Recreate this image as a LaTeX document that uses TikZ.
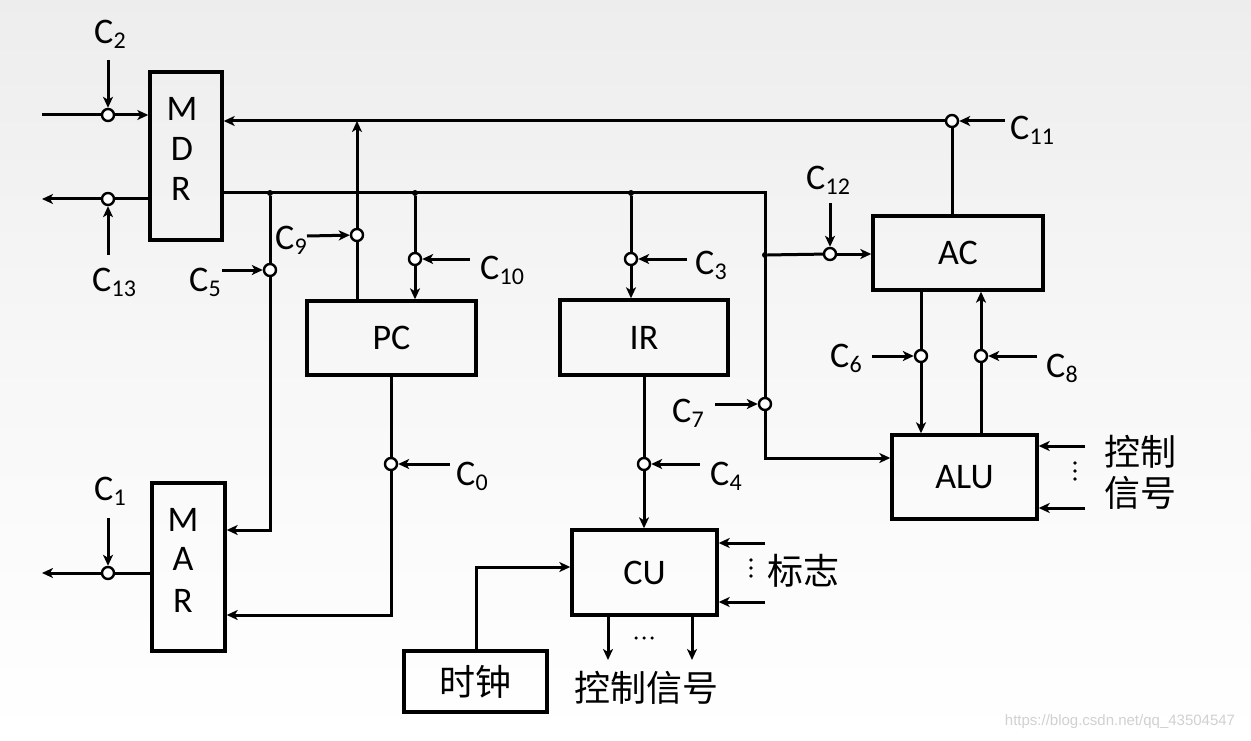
\documentclass[tikz,border=0pt]{standalone}
\usepackage{fontspec}
\setmainfont{Carlito}
\newfontfamily\cjk{Noto Sans CJK SC}
\newfontfamily\wmfont{Liberation Sans}
\usetikzlibrary{arrows.meta}
\newcommand\cl[1]{C\kern0.3pt\raisebox{-5pt}{\fontsize{24}{24}\selectfont #1}}
\begin{document}
\begin{tikzpicture}[x=1pt,y=-1pt,
  font=\fontsize{36}{40}\selectfont,
  box/.style={draw, line width=3.4pt, inner sep=0pt},
  sw/.style={circle, draw, fill=white, line width=2.4pt, minimum size=12pt, inner sep=0pt},
  jd/.style={circle, fill=black, minimum size=6pt, inner sep=0pt},
  ln/.style={line width=3pt},
  ar/.style={line width=3pt, -{Stealth[length=11pt,width=10pt,inset=3pt]}},
  lab/.style={inner sep=0pt},
  cn/.style={inner sep=0pt, font=\fontsize{36}{40}\selectfont\cjk},
  vd/.style={circle, fill=black, minimum size=3.8pt, inner sep=0pt}]
\shade[top color=black!7, bottom color=white, middle color=black!3] (0,0) rectangle (1251,741);
\useasboundingbox (0,0) rectangle (1251,741);

% boxes
\node[box, minimum width=72pt, minimum height=168pt] (mdr) at (186,156) {};
\node[lab] at (182,109) {M};
\node[lab] at (182,149) {D};
\node[lab] at (181,189) {R};
\node[box, minimum width=73pt, minimum height=168pt] (mar) at (188.5,567) {};
\node[lab] at (183,520) {M};
\node[lab] at (183,559) {A};
\node[lab] at (183,601) {R};
\node[box, minimum width=169pt, minimum height=74pt] (pc) at (391.5,338) {PC};
\node[box, minimum width=168pt, minimum height=75pt] (ir) at (644,337.5) {IR};
\node[box, minimum width=145pt, minimum height=85pt] (cu) at (644.5,572.5) {CU};
\node[box, minimum width=143pt, minimum height=61pt, font=\fontsize{36}{40}\selectfont\cjk] (clk) at (475.5,681.5) {时钟};
\node[box, minimum width=170pt, minimum height=74pt] (ac) at (958,253) {AC};
\node[box, minimum width=145pt, minimum height=84pt] (alu) at (964.5,477) {ALU};

% coordinates
\coordinate (in2) at (42,115);
\coordinate (out13) at (42,199);
\coordinate (out1) at (42,573);
\coordinate (bc) at (765,193);
\coordinate (ab) at (765,458);
\coordinate (m5) at (270,530);
\coordinate (m0) at (391,615);
\coordinate (ck) at (476,567);
\coordinate (t9) at (357,121);

% switches
\node[sw] (s2) at (108,115) {};
\node[sw] (s13) at (108,199) {};
\node[sw] (s1) at (108,573) {};
\node[sw] (s11) at (952,121) {};
\node[sw] (s5) at (270,270) {};
\node[sw] (s9) at (357,235) {};
\node[sw] (s10) at (415,259) {};
\node[sw] (s3) at (631,259) {};
\node[sw] (s12) at (830,254) {};
\node[sw] (s7) at (765,404) {};
\node[sw] (s6) at (921,356) {};
\node[sw] (s8) at (981,356) {};
\node[sw] (s0) at (391,464) {};
\node[sw] (s4) at (644,464) {};

% junctions
\node[jd] (j1) at (270,193) {};
\node[jd] (j2) at (415,193) {};
\node[jd] (j3) at (631,193) {};
\node[jd] (j4) at (765,255) {};

% MDR I/O
\draw[ln] (in2) -- (s2);
\draw[ar] (s2) -- (mdr.west |- s2);
\draw[ln] (mdr.west |- s13) -- (s13);
\draw[ar] (s13) -- (out13);
% MAR output
\draw[ln] (mar.west |- s1) -- (s1);
\draw[ar] (s1) -- (out1);

% top bus
\draw[ar] (s11) -- (mdr.east |- s11);
\draw[ln] (ac.north -| s11) -- (s11);

% second bus
\draw[ln] (mdr.east |- bc) -- (bc) -- (s7);
\draw[ar] (s7) -- (ab) -- (alu.west |- ab);
\draw[ln] (j4) -- (s12);
\draw[ar] (s12) -- (ac.west |- s12);

% MAR from bus
\draw[ln] (j1) -- (s5);
\draw[ar] (s5) -- (m5) -- (mar.east |- m5);
% PC
\draw[ln] (pc.north -| s9) -- (s9);
\draw[ar] (s9) -- (t9);
\draw[ln] (j2) -- (s10);
\draw[ar] (s10) -- (pc.north -| s10);
\draw[ln] (pc.south -| s0) -- (s0);
\draw[ar] (s0) -- (m0) -- (mar.east |- m0);
% IR
\draw[ln] (j3) -- (s3);
\draw[ar] (s3) -- (ir.north -| s3);
\draw[ln] (ir.south -| s4) -- (s4);
\draw[ar] (s4) -- (cu.north -| s4);
% clock
\draw[ar] (clk.north -| ck) -- (ck) -- (cu.west |- ck);
% AC - ALU
\draw[ln] (ac.south -| s6) -- (s6);
\draw[ar] (s6) -- (alu.north -| s6);
\draw[ln] (alu.north -| s8) -- (s8);
\draw[ar] (s8) -- (ac.south -| s8);

% control inputs
\coordinate (c2) at (108,60);
\coordinate (c13) at (108,255);
\coordinate (c1) at (108,518);
\coordinate (c5) at (222,270);
\coordinate (c9) at (307,236);
\coordinate (c10) at (470,259);
\coordinate (c3) at (687,259);
\coordinate (c12) at (830,203);
\coordinate (c11) at (1005,121);
\coordinate (c6) at (872,356);
\coordinate (c8) at (1037,356);
\coordinate (c7) at (715,404);
\coordinate (c0) at (450,464);
\coordinate (c4) at (700,464);
\foreach \a/\b in {c2/s2,c13/s13,c1/s1,c5/s5,c9/s9,c10/s10,c3/s3,c12/s12,c11/s11,c6/s6,c8/s8,c7/s7,c0/s0,c4/s4}
  \draw[ar] (\a) -- (\b);

% labels
\node[lab] (l2) at (110,34) {\cl{2}};
\node[lab] (l13) at (114,282) {\cl{13}};
\node[lab] (l1) at (110,491) {\cl{1}};
\node[lab] (l5) at (205,282) {\cl{5}};
\node[lab] (l9) at (291,240) {\cl{9}};
\node[lab] (l10) at (502,270) {\cl{10}};
\node[lab] (l3) at (711,265) {\cl{3}};
\node[lab] (l12) at (828,180) {\cl{12}};
\node[lab] (l11) at (1032,130) {\cl{11}};
\node[lab] (l6) at (846,358) {\cl{6}};
\node[lab] (l8) at (1062,368) {\cl{8}};
\node[lab] (l7) at (688,413) {\cl{7}};
\node[lab] (l0) at (472,476) {\cl{0}};
\node[lab] (l4) at (726,476) {\cl{4}};

% ALU control inputs
\coordinate (ai1) at (1085,446);
\coordinate (ai2) at (1085,508);
\draw[ar] (ai1) -- (alu.east |- ai1);
\draw[ar] (ai2) -- (alu.east |- ai2);
\foreach \y in {463,471,479} \node[vd] at (1075,\y) {};
\node[cn] (t1) at (1140,452) {控制};
\node[cn] (t2) at (1140,493) {信号};

% CU flag inputs
\coordinate (ci1) at (765,543);
\coordinate (ci2) at (765,602);
\draw[ar] (ci1) -- (cu.east |- ci1);
\draw[ar] (ci2) -- (cu.east |- ci2);
\foreach \y in {560,568,576} \node[vd] at (751,\y) {};
\node[cn] (t3) at (803,571) {标志};

% CU outputs
\coordinate (co1) at (608,660);
\coordinate (co2) at (692,660);
\draw[ar] (cu.south -| co1) -- (co1);
\draw[ar] (cu.south -| co2) -- (co2);
\foreach \x in {636,644,652} \node[vd, minimum size=3.5pt] at (\x,638) {};
\node[cn] (t4) at (646,688) {控制信号};

% watermark
\node[inner sep=0pt, text=black!18, font=\fontsize{15}{18}\selectfont\wmfont] (wm) at (1120,722) {https://blog.csdn.net/qq\_43504547};
\end{tikzpicture}
\end{document}
